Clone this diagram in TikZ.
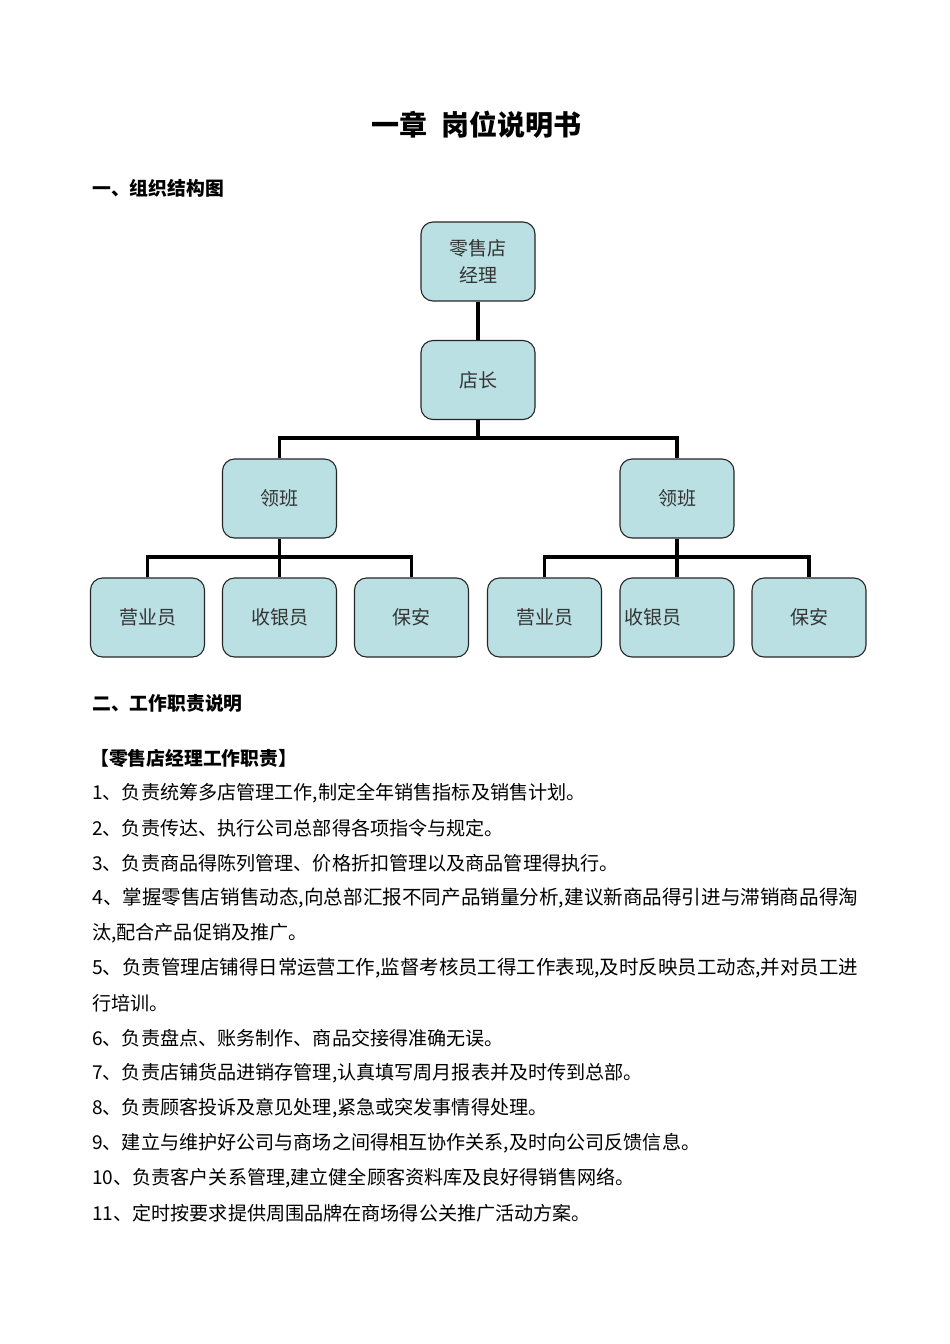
\documentclass[tikz,border=0pt]{standalone}
\usepackage{fontspec}
\setmainfont{Noto Sans CJK SC}
\usetikzlibrary{positioning}
\definecolor{boxfill}{HTML}{BBE0E3}
\definecolor{boxtext}{HTML}{333333}
\tikzset{
  box/.style={draw=black!85, line width=1.1pt, fill=boxfill, rounded corners=12pt,
    minimum width=114pt, minimum height=79pt, inner sep=2pt, text=boxtext,
    font=\fontsize{19}{27}\selectfont, align=center},
  conn/.style={line width=3.6pt, draw=black, line join=miter},
  body/.style={anchor=west, inner sep=0pt, font=\fontsize{19.1}{22}\selectfont},
  head/.style={anchor=west, inner sep=0pt, font=\fontsize{18.8}{22}\selectfont\bfseries},
}
\begin{document}
\begin{tikzpicture}[x=1pt, y=-1pt]
\useasboundingbox (0,0) rectangle (950,1344);
\fill[white] (0,0) rectangle (950,1344);

\node[inner sep=0pt, font=\fontsize{28}{32}\selectfont\bfseries] (title) at (476,125) {一章\hspace{14pt}岗位说明书};
\node[head] (h1) at (92,188) {一、组织结构图};

% org chart
\node[box] (mgr) at (478,261.5) {零售店\\经理};
\node[box] (dz) at (478,380) {店长};
\node[box] (lb1) at (279.5,498.5) {领班};
\node[box] (lb2) at (677,498.5) {领班};
\node[box] (l1) at (147.5,617.5) {营业员};
\node[box] (l2) at (279.5,617.5) {收银员};
\node[box] (l3) at (411.5,617.5) {保安};
\node[box] (r1) at (544.5,617.5) {营业员};
\node[box, text width=106pt, align=left, inner xsep=4pt] (r2) at (677,617.5) {收银员};
\node[box] (r3) at (809,617.5) {保安};

\coordinate (bus1) at (478,438);
\coordinate (bus2) at (279.5,557);
\coordinate (bus3) at (677,557);
\draw[conn] (mgr.south) -- (dz.north);
\draw[conn] (dz.south) -- (bus1);
\draw[conn] (lb1.north) |- (bus1) -| (lb2.north);
\draw[conn] (lb1.south) -- (l2.north);
\draw[conn] (l1.north) |- (bus2) -| (l3.north);
\draw[conn] (lb2.south) -- (r2.north);
\draw[conn] (r1.north) |- (bus3) -| (r3.north);

\node[head] (h2) at (92,703) {二、工作职责说明};
\node[head, xshift=-2pt] (h3) at (92,758) {【零售店经理工作职责】};

\node[body] (t1) at (92,793) {1、负责统筹多店管理工作,制定全年销售指标及销售计划。};
\node[body] (t2) at (92,828) {2、负责传达、执行公司总部得各项指令与规定。};
\node[body] (t3) at (92,863) {3、负责商品得陈列管理、价格折扣管理以及商品管理得执行。};
\node[body] (t4) at (92,898) {\resizebox{766pt}{!}{4、掌握零售店销售动态,向总部汇报不同产品销量分析,建议新商品得引进与滞销商品得淘}};
\node[body] (t4b) at (92,933) {汰,配合产品促销及推广。};
\node[body] (t5) at (92,968) {\resizebox{766pt}{!}{5、负责管理店铺得日常运营工作,监督考核员工得工作表现,及时反映员工动态,并对员工进}};
\node[body] (t5b) at (92,1003) {行培训。};
\node[body] (t6) at (92,1038) {6、负责盘点、账务制作、商品交接得准确无误。};
\node[body] (t7) at (92,1073) {7、负责店铺货品进销存管理,认真填写周月报表并及时传到总部。};
\node[body] (t8) at (92,1108) {8、负责顾客投诉及意见处理,紧急或突发事情得处理。};
\node[body] (t9) at (92,1143) {9、建立与维护好公司与商场之间得相互协作关系,及时向公司反馈信息。};
\node[body] (t10) at (92,1178) {10、负责客户关系管理,建立健全顾客资料库及良好得销售网络。};
\node[body] (t11) at (92,1213) {11、定时按要求提供周围品牌在商场得公关推广活动方案。};
\end{tikzpicture}
\end{document}
